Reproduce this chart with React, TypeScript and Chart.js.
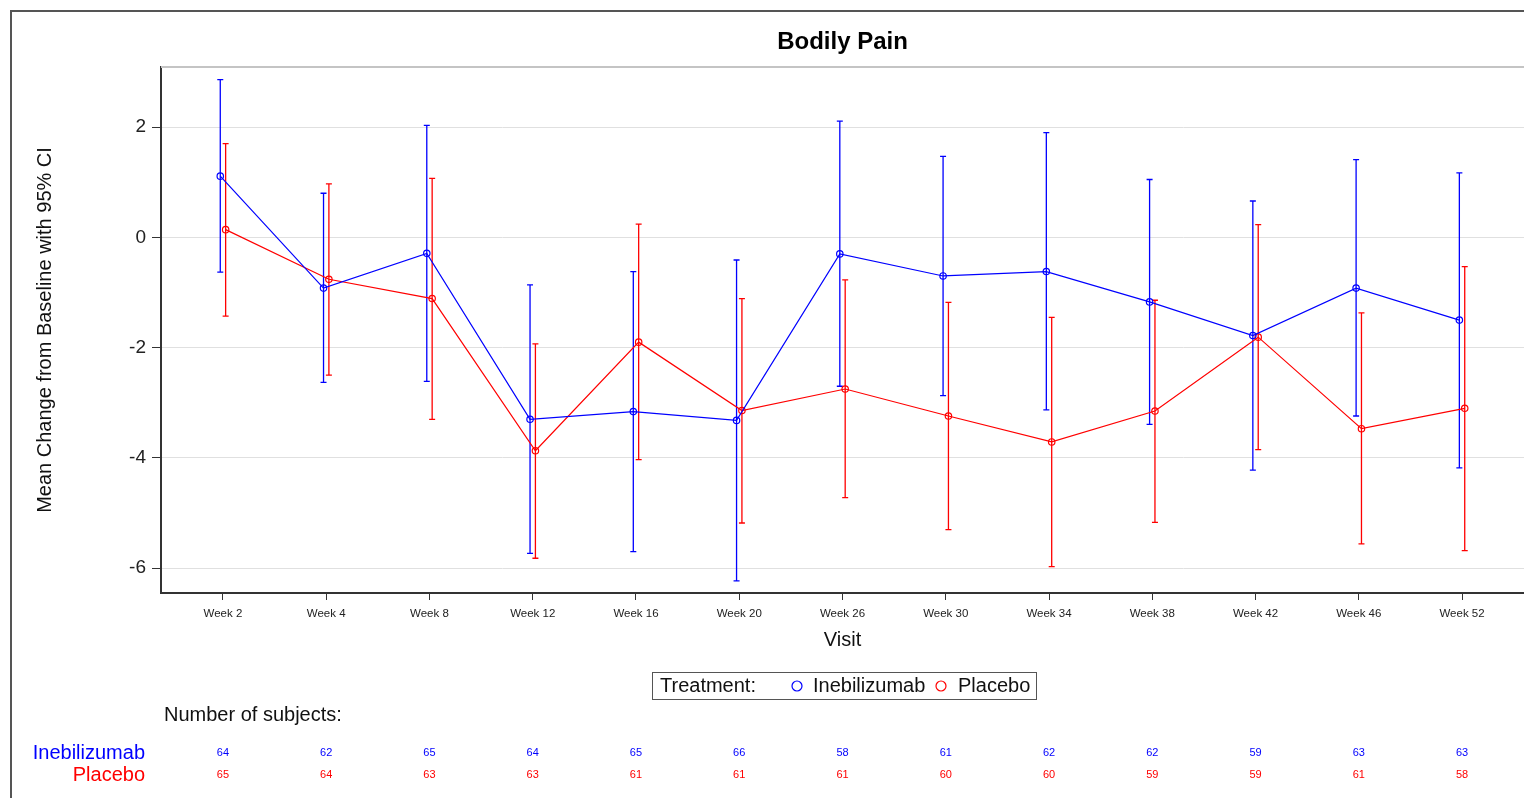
import React, { useEffect, useRef } from "react";
import { Chart, registerables } from "chart.js";

Chart.register(...registerables);

const visits = ["Week 2", "Week 4", "Week 8", "Week 12", "Week 16", "Week 20", "Week 26", "Week 30", "Week 34", "Week 38", "Week 42", "Week 46", "Week 52"];

const inebMean = [1.11, -0.92, -0.29, -3.30, -3.16, -3.32, -0.30, -0.70, -0.62, -1.17, -1.78, -0.92, -1.50];
const inebUpper = [2.86, 0.80, 2.03, -0.86, -0.62, -0.41, 2.11, 1.47, 1.90, 1.05, 0.66, 1.41, 1.17];
const inebLower = [-0.63, -2.63, -2.61, -5.73, -5.70, -6.23, -2.70, -2.87, -3.13, -3.39, -4.22, -3.24, -4.18];

const placMean = [0.14, -0.76, -1.11, -3.87, -1.90, -3.14, -2.75, -3.24, -3.71, -3.15, -1.81, -3.47, -3.10];
const placUpper = [1.70, 0.97, 1.07, -1.93, 0.24, -1.11, -0.77, -1.18, -1.45, -1.14, 0.23, -1.37, -0.53];
const placLower = [-1.43, -2.50, -3.30, -5.82, -4.03, -5.18, -4.72, -5.30, -5.97, -5.17, -3.85, -5.56, -5.68];

const inebN = [64, 62, 65, 64, 65, 66, 58, 61, 62, 62, 59, 63, 63];
const placN = [65, 64, 63, 63, 61, 61, 61, 60, 60, 59, 59, 61, 58];

const yTicks = [-6, -4, -2, 0, 2];

const BLUE = "#0000ff";
const RED = "#ff0000";
const FONT = "'Liberation Sans', Arial, Helvetica, sans-serif";
const OFFSET = 0.026;

const groups = [
  { label: "Inebilizumab", mean: inebMean, upper: inebUpper, lower: inebLower, n: inebN, color: BLUE, off: -OFFSET },
  { label: "Placebo", mean: placMean, upper: placUpper, lower: placLower, n: placN, color: RED, off: OFFSET },
];

const errorBarPlugin = {
  id: "errorBars",
  beforeDatasetsDraw(chart: any) {
    const { ctx } = chart;
    const xs = chart.scales.x;
    const ys = chart.scales.y;
    ctx.save();
    groups.forEach((g) => {
      ctx.strokeStyle = g.color;
      ctx.lineWidth = 1.3;
      g.mean.forEach((_, i) => {
        const x = xs.getPixelForValue(i + g.off);
        const yt = ys.getPixelForValue(g.upper[i]);
        const yb = ys.getPixelForValue(g.lower[i]);
        ctx.beginPath();
        ctx.moveTo(x, yt);
        ctx.lineTo(x, yb);
        ctx.moveTo(x - 3, yt);
        ctx.lineTo(x + 3, yt);
        ctx.moveTo(x - 3, yb);
        ctx.lineTo(x + 3, yb);
        ctx.stroke();
      });
    });
    ctx.restore();
  },
};

const decorPlugin = {
  id: "decor",
  afterDraw(chart: any) {
    const { ctx, chartArea } = chart;
    const xs = chart.scales.x;
    ctx.save();
    // outer frame
    ctx.fillStyle = "#555555";
    ctx.fillRect(10, 10, 2, 788);
    ctx.fillRect(10, 10, 1514, 2);
    // plot top line
    ctx.fillStyle = "#c4c4c4";
    ctx.fillRect(chartArea.left, chartArea.top - 1, chartArea.right - chartArea.left, 2);

    const cx = (chartArea.left + chartArea.right) / 2;
    const cy = (chartArea.top + chartArea.bottom) / 2;

    // title
    ctx.fillStyle = "#000000";
    ctx.textBaseline = "middle";
    ctx.textAlign = "center";
    ctx.font = `bold 24px ${FONT}`;
    ctx.fillText("Bodily Pain", cx, 42);

    // x-axis title
    ctx.fillStyle = "#111111";
    ctx.font = `20px ${FONT}`;
    ctx.fillText("Visit", cx, 640);

    // y-axis title
    ctx.save();
    ctx.translate(45, cy);
    ctx.rotate(-Math.PI / 2);
    ctx.fillText("Mean Change from Baseline with 95% CI", 0, 0);
    ctx.restore();

    // legend
    ctx.strokeStyle = "#555555";
    ctx.lineWidth = 1;
    ctx.strokeRect(652.5, 672.5, 384, 27);
    ctx.textAlign = "left";
    ctx.fillStyle = "#111111";
    ctx.fillText("Treatment:", 660, 686);
    const legendItems = [
      { g: groups[0], cxp: 797, tx: 813 },
      { g: groups[1], cxp: 941, tx: 958 },
    ];
    legendItems.forEach((it) => {
      ctx.strokeStyle = it.g.color;
      ctx.lineWidth = 1.2;
      ctx.beginPath();
      ctx.arc(it.cxp, 686, 5, 0, Math.PI * 2);
      ctx.stroke();
      ctx.fillStyle = "#111111";
      ctx.fillText(it.g.label, it.tx, 686);
    });

    // subjects table
    ctx.fillStyle = "#111111";
    ctx.fillText("Number of subjects:", 164, 715);
    const rowY = [753, 775];
    groups.forEach((g, gi) => {
      ctx.textAlign = "right";
      ctx.font = `20px ${FONT}`;
      ctx.fillStyle = g.color;
      ctx.fillText(g.label, 145, rowY[gi]);
      ctx.textAlign = "center";
      ctx.font = `11px ${FONT}`;
      g.n.forEach((v, i) => {
        ctx.fillText(String(v), xs.getPixelForValue(i), rowY[gi]);
      });
    });
    ctx.restore();
  },
};

export default function App() {
  const ref = useRef<HTMLCanvasElement | null>(null);

  useEffect(() => {
    if (!ref.current) return;
    const chart = new Chart(ref.current, {
      type: "line",
      data: {
        datasets: groups.map((g) => ({
          label: g.label,
          data: g.mean.map((y, i) => ({ x: i + g.off, y })),
          borderColor: g.color,
          backgroundColor: "rgba(0,0,0,0)",
          borderWidth: 1.2,
          pointRadius: 3.2,
          pointBorderWidth: 1.2,
          pointBorderColor: g.color,
          pointBackgroundColor: "rgba(0,0,0,0)",
          tension: 0,
          fill: false,
        })),
      },
      options: {
        responsive: false,
        animation: false,
        devicePixelRatio: 1,
        layout: { autoPadding: false, padding: { top: 67, left: 0, right: 0, bottom: 0 } },
        plugins: {
          legend: { display: false },
          tooltip: { enabled: false },
          title: { display: false },
        },
        scales: {
          x: {
            type: "linear",
            min: -0.6,
            max: 12.6,
            afterBuildTicks: (s: any) => {
              s.ticks = visits.map((_, i) => ({ value: i }));
            },
            afterFit: (s: any) => {
              s.height = 205;
              s.paddingLeft = 0;
              s.paddingRight = 0;
            },
            ticks: {
              autoSkip: false,
              maxRotation: 0,
              minRotation: 0,
              padding: 7,
              color: "#222222",
              font: { size: 11.5, family: FONT },
              callback: (v: any) => visits[Math.round(Number(v))] ?? "",
            },
            grid: { drawOnChartArea: false, tickLength: 7, tickColor: "#333333", tickWidth: 1 },
            border: { color: "#333333", width: 2 },
          },
          y: {
            type: "linear",
            min: -6.45,
            max: 3.09,
            afterBuildTicks: (s: any) => {
              s.ticks = yTicks.map((v) => ({ value: v }));
            },
            afterFit: (s: any) => {
              s.width = 161;
              s.paddingTop = 0;
              s.paddingBottom = 0;
            },
            ticks: {
              padding: 6,
              color: "#222222",
              font: { size: 19, family: FONT },
              callback: (v: any) => String(v),
            },
            grid: { color: "#e0e0e0", lineWidth: 1, tickLength: 9, tickColor: "#333333", tickWidth: 1 },
            border: { color: "#333333", width: 2 },
          },
        },
      } as any,
      plugins: [errorBarPlugin, decorPlugin],
    });
    return () => chart.destroy();
  }, []);

  return (
    <div style={{ position: "fixed", left: 0, top: 0, width: 1524, height: 798, background: "#ffffff" }}>
      <canvas ref={ref} width={1524} height={798} style={{ display: "block" }} />
    </div>
  );
}
